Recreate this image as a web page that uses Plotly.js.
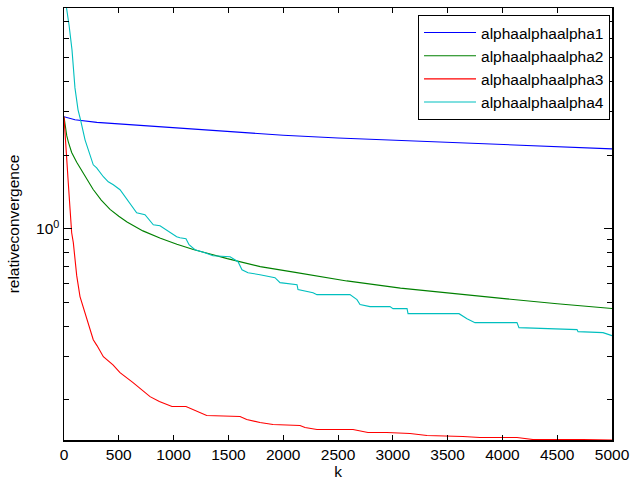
<!DOCTYPE html>
<html>
<head>
<meta charset="utf-8">
<script src="https://cdn.plot.ly/plotly-3.0.1.min.js"></script>
<style>html,body{margin:0;padding:0;background:#fff;}#chart{width:632px;height:481px;}</style>
</head>
<body>
<div id="chart"></div>
<script>
// Series names
const seriesNames = ["alphaalphaalpha1", "alphaalphaalpha2", "alphaalphaalpha3", "alphaalphaalpha4"];

// Series 1 (blue)
const k1 = [0, 100, 300, 600, 1000, 1500, 2000, 2500, 3000, 3500, 4000, 4500, 5000];
const v1 = [2.87, 2.79, 2.72, 2.66, 2.58, 2.49, 2.41, 2.35, 2.30, 2.25, 2.20, 2.16, 2.12];

// Series 2 (green)
const k2 = [0, 10, 25, 40, 70, 116, 150, 190, 230, 265, 340, 420, 500, 575, 720, 880, 1030, 1180, 1490, 1790, 2110, 2580, 3070, 3550, 4040, 4500, 5000];
const v2 = [2.865, 2.60, 2.40, 2.26, 2.05, 1.87, 1.76, 1.65, 1.54, 1.45, 1.31, 1.20, 1.125, 1.065, 0.98, 0.915, 0.865, 0.823, 0.755, 0.700, 0.663, 0.612, 0.572, 0.543, 0.517, 0.494, 0.472];

// Series 3 (red)
const k3 = [0, 7, 24, 39, 55, 70, 85, 100, 116, 146, 192, 230, 267, 301, 359, 447, 511, 630, 785, 870, 985, 1113, 1176, 1302, 1606, 1667, 1788, 1907, 2153, 2199, 2308, 2637, 2773, 2946, 3157, 3312, 3640, 3795, 4133, 4279, 4735, 5000];
const v3 = [2.865, 2.536, 1.791, 1.541, 1.207, 0.963, 0.877, 0.740, 0.643, 0.528, 0.454, 0.394, 0.352, 0.333, 0.300, 0.278, 0.258, 0.235, 0.206, 0.1967, 0.1877, 0.1877, 0.1825, 0.1725, 0.1709, 0.1661, 0.1615, 0.1585, 0.157, 0.1541, 0.1512, 0.1512, 0.147, 0.147, 0.1456, 0.1429, 0.1416, 0.1403, 0.1403, 0.1376, 0.1376, 0.1370];

// Series 4 (cyan)
const k4 = [0, 23, 46, 73, 100, 128, 151, 176, 192, 222, 267, 298, 359, 404, 450, 511, 557, 602, 663, 739, 815, 876, 967, 1028, 1058, 1113, 1141, 1195, 1286, 1359, 1515, 1588, 1624, 1679, 1788, 1925, 1971, 2126, 2135, 2272, 2308, 2609, 2673, 2701, 2792, 2974, 3002, 3130, 3139, 3604, 3677, 3750, 4133, 4151, 4681, 4690, 4918, 5000];
const v4 = [12.0, 7.98, 6.80, 5.38, 3.763, 3.060, 2.786, 2.489, 2.308, 2.101, 1.825, 1.774, 1.631, 1.555, 1.512, 1.443, 1.351, 1.277, 1.162, 1.141, 1.038, 1.029, 0.963, 0.928, 0.919, 0.910, 0.860, 0.821, 0.798, 0.776, 0.7685, 0.733, 0.680, 0.661, 0.649, 0.631, 0.602, 0.591, 0.564, 0.548, 0.538, 0.538, 0.513, 0.490, 0.4805, 0.4805, 0.4716, 0.4716, 0.4497, 0.4497, 0.4291, 0.4133, 0.4133, 0.3943, 0.387, 0.3798, 0.3762, 0.3658];

// Axis ticks
const xTickVals = [0, 500, 1000, 1500, 2000, 2500, 3000, 3500, 4000, 4500, 5000];
const yTickVals = [1];
const yTickText = ["10<sup>0</sup>"];
const yMinorVals = [0.2, 0.3, 0.4, 0.5, 0.6, 0.7, 0.8, 0.9, 2, 3, 4, 5, 6, 7, 8];

const colors = ["#0000ff", "#008000", "#ff0000", "#00bfbf"];
const font = "Liberation Sans, Arial, Helvetica, sans-serif";
const fs = 15.5;

const ks = [k1, k2, k3, k4];
const vs = [v1, v2, v3, v4];
const traces = seriesNames.map((n, i) => ({
  x: ks[i], y: vs[i], name: n, type: "scatter", mode: "lines",
  line: {color: colors[i], width: 1.1}
}));

const layout = {
  width: 632, height: 481,
  margin: {l: 64, r: 20, t: 8, b: 40.5, pad: 0},
  paper_bgcolor: "#fff", plot_bgcolor: "#fff",
  font: {family: font, size: fs, color: "#000"},
  showlegend: true,
  legend: {
    x: 0.9964, xanchor: "right", y: 0.9838, yanchor: "top",
    bgcolor: "#fff", bordercolor: "#000", borderwidth: 1,
    font: {family: font, size: fs, color: "#000"},
    tracegroupgap: 0, itemwidth: 52
  },
  xaxis: {
    range: [0, 5000], tickmode: "array", tickvals: xTickVals,
    ticks: "inside", ticklen: 5, tickwidth: 1, tickcolor: "#000",
    showline: true, linecolor: "#000", linewidth: 1.5, mirror: "ticks",
    showgrid: false, zeroline: false,
    tickfont: {family: font, size: fs, color: "#000"},
    title: {text: "k", font: {family: font, size: fs, color: "#000"}, standoff: 4}
  },
  yaxis: {
    type: "log", range: [-0.8633, 0.9020],
    tickmode: "array", tickvals: yTickVals, ticktext: yTickText,
    ticks: "inside", ticklen: 8, tickwidth: 1, tickcolor: "#000",
    minor: {tickmode: "array", tickvals: yMinorVals, ticks: "inside", ticklen: 5, tickwidth: 1, tickcolor: "#000", showgrid: false},
    showline: true, linecolor: "#000", linewidth: 1.5, mirror: "ticks",
    showgrid: false, zeroline: false,
    tickfont: {family: font, size: fs, color: "#000"},
    title: {text: "relativeconvergence", font: {family: font, size: fs, color: "#000"}, standoff: 12}
  }
};

Plotly.newPlot("chart", traces, layout, {displayModeBar: false, staticPlot: true});
</script>
</body>
</html>
